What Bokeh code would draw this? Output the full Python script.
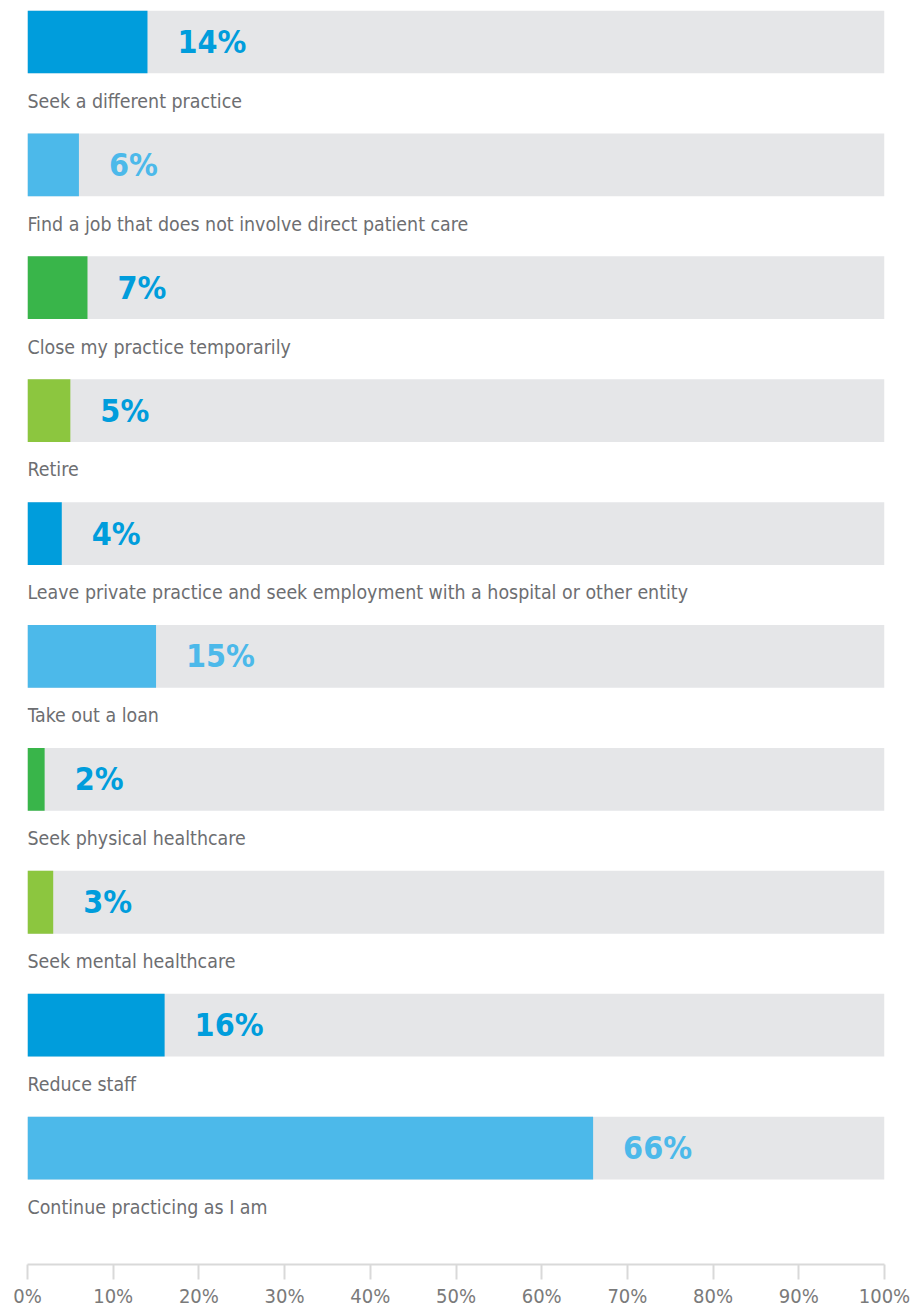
from bokeh.plotting import figure
from bokeh.models import Range1d, FixedTicker, PrintfTickFormatter, ColumnDataSource
from bokeh.core.properties import value
from bokeh.embed import file_html
from bokeh.resources import INLINE

categories = [
    "Seek a different practice",
    "Find a job that does not involve direct patient care",
    "Close my practice temporarily",
    "Retire",
    "Leave private practice and seek employment with a hospital or other entity",
    "Take out a loan",
    "Seek physical healthcare",
    "Seek mental healthcare",
    "Reduce staff",
    "Continue practicing as I am",
]
values = [14, 6, 7, 5, 4, 15, 2, 3, 16, 66]
bar_colors = ["#009ddc", "#4cb9ea", "#39b54a", "#8cc63f", "#009ddc",
              "#4cb9ea", "#39b54a", "#8cc63f", "#009ddc", "#4cb9ea"]
label_colors = ["#009ddc", "#4cb9ea", "#009ddc", "#009ddc", "#009ddc",
                "#4cb9ea", "#009ddc", "#009ddc", "#009ddc", "#4cb9ea"]
tick_values = [0, 10, 20, 30, 40, 50, 60, 70, 80, 90, 100]

FONT = "DejaVu Sans Condensed"
pitch = 123.3
top_border = 10
frame_h = 1258
total_h = 1310
y_top = -31.5 / pitch
y_bot = (frame_h - 31.5) / pitch

idx = list(range(len(categories)))
src = ColumnDataSource(dict(
    y=idx,
    ylab=[i + 59.5 / pitch for i in idx],
    v=values,
    full=[100] * len(values),
    zero=[0] * len(values),
    cat=categories,
    lab=[f"{v}%" for v in values],
    bc=bar_colors,
    lc=label_colors,
))

p = figure(width=911, height=total_h, output_backend="svg", toolbar_location=None,
           x_range=Range1d(0, 100), y_range=Range1d(y_bot, y_top),
           min_border_left=27, min_border_right=27, min_border_top=top_border,
           min_border_bottom=total_h - top_border - frame_h)
p.outline_line_color = None
p.grid.visible = False
p.yaxis.visible = False
p.background_fill_color = "white"
p.border_fill_color = "white"

bh = 63 / pitch
p.hbar(y="y", left="zero", right="full", height=bh, source=src,
       fill_color="#e5e6e8", line_color=None)
p.hbar(y="y", left="zero", right="v", height=bh, source=src,
       fill_color="bc", line_color=None)
p.text(x="v", y="y", text="lab", source=src, x_offset=30,
       text_color="lc", text_font=value(FONT), text_font_style="bold",
       text_font_size="32px", text_baseline="middle", text_align="left")
p.text(x="zero", y="ylab", text="cat", source=src,
       text_color="#6d6e71", text_font=value(FONT),
       text_font_size="19.4px", text_baseline="middle", text_align="left")

ax = p.xaxis[0]
ax.ticker = FixedTicker(ticks=tick_values)
ax.formatter = PrintfTickFormatter(format="%d%%")
ax.axis_line_color = "#d9d9d9"
ax.axis_line_width = 2
ax.major_tick_line_color = "#d9d9d9"
ax.major_tick_line_width = 2
ax.major_tick_in = 0
ax.major_tick_out = 15
ax.minor_tick_line_color = None
ax.major_label_text_font = FONT
ax.major_label_text_font_size = "20px"
ax.major_label_text_color = "#7a7a7a"
ax.major_label_standoff = 4

open("out.html", "w").write(file_html(p, INLINE))
